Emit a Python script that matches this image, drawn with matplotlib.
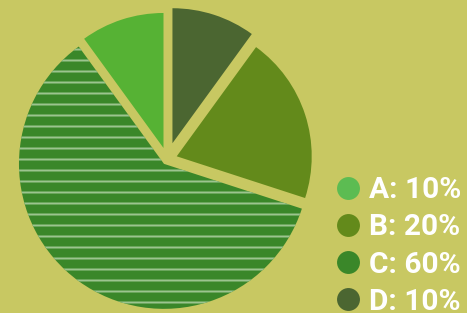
import matplotlib
matplotlib.use("Agg")
import matplotlib.pyplot as plt
from matplotlib.lines import Line2D

labels = ["A", "B", "C", "D"]
values = [10, 20, 60, 10]
colors = ["#56b234", "#638a1b", "#3a8729", "#4b6631"]
legend_colors = ["#5cbc52", "#638a1b", "#3a8729", "#4b6631"]

BG = "#c8c862"
DPI = 132
W, H = 467, 313

plt.rcParams["hatch.linewidth"] = 1.1

fig = plt.figure(figsize=(W / DPI, H / DPI), dpi=DPI, facecolor=BG)
ax = fig.add_axes([0, 0, 1, 1])
ax.set_facecolor(BG)

# drawing order around the circle (counter-clockwise from top): A, C, B, D
order = [0, 2, 1, 3]
R = 135
explode_px = {"A": 12, "B": 10, "C": 5.5, "D": 17}
center = (167.2, -159.4)

wedges, _ = ax.pie(
    [values[i] for i in order],
    colors=[colors[i] for i in order],
    explode=[explode_px[labels[i]] for i in order],
    startangle=90,
    counterclock=True,
    radius=R,
    center=center,
    wedgeprops=dict(linewidth=0),
    frame=True,
)
for w, i in zip(wedges, order):
    if labels[i] == "C":
        w.set_radius(145)
        w.set_hatch("--")
        w.set_edgecolor("#9cc48f")
        w.set_linewidth(0)

ax.set_xlim(0, W)
ax.set_ylim(-H, 0)
ax.set_aspect("auto")
ax.axis("off")

handles = [
    Line2D([], [], linestyle="none", marker="o", markersize=12.5,
           markerfacecolor=c, markeredgewidth=0)
    for c in legend_colors
]
leg_labels = [f"{l}: {v}%" for l, v in zip(labels, values)]
leg = fig.legend(
    handles, leg_labels,
    loc="upper left",
    bbox_to_anchor=(333 / W, 1 - 176 / H),
    frameon=False,
    prop=dict(family="Roboto", weight="bold", size=16.3),
    labelcolor="white",
    handlelength=1.0,
    handletextpad=0.2,
    labelspacing=0.31,
    borderpad=0,
    borderaxespad=0,
)

fig.savefig("out.png", dpi=DPI, facecolor=BG)
